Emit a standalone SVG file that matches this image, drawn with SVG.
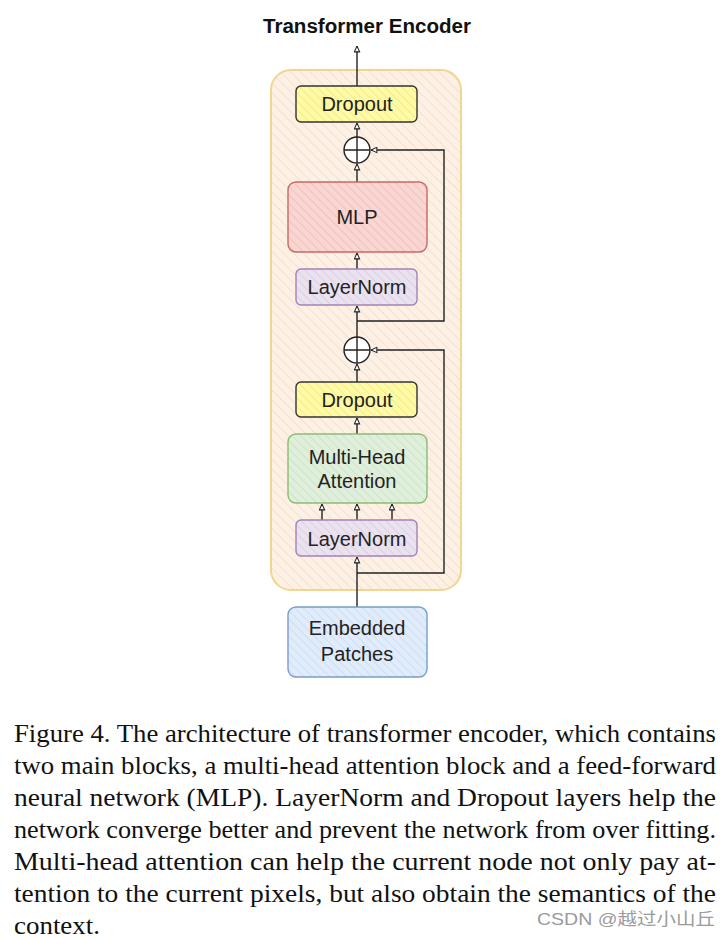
<svg xmlns="http://www.w3.org/2000/svg" width="725" height="940" viewBox="0 0 725 940">
<defs>
<style>
.lbl{font-family:"Liberation Sans",Arial,sans-serif;font-size:20px;fill:#222;text-anchor:middle}
.cap{font-family:"Liberation Serif","Times New Roman",serif;font-size:26px;fill:#111}
.ln{fill:none;stroke:#222;stroke-width:1.4}
</style>
<pattern id="hC" patternUnits="userSpaceOnUse" width="7" height="7" patternTransform="rotate(-45)"><rect width="7" height="7" fill="#fdf1e6"/><line x1="0" y1="0" x2="0" y2="7" stroke="#f6e0cc" stroke-width="2"/></pattern>
<pattern id="hY" patternUnits="userSpaceOnUse" width="6" height="6" patternTransform="rotate(-45)"><rect width="6" height="6" fill="#fffaa8"/><line x1="0" y1="0" x2="0" y2="6" stroke="#f2ea6e" stroke-width="1.6"/></pattern>
<pattern id="hR" patternUnits="userSpaceOnUse" width="6" height="6" patternTransform="rotate(-45)"><rect width="6" height="6" fill="#f9d6d2"/><line x1="0" y1="0" x2="0" y2="6" stroke="#f0bcb8" stroke-width="1.6"/></pattern>
<pattern id="hP" patternUnits="userSpaceOnUse" width="6" height="6" patternTransform="rotate(-45)"><rect width="6" height="6" fill="#ebe2f0"/><line x1="0" y1="0" x2="0" y2="6" stroke="#d8cce2" stroke-width="1.6"/></pattern>
<pattern id="hG" patternUnits="userSpaceOnUse" width="6" height="6" patternTransform="rotate(-45)"><rect width="6" height="6" fill="#e0efdc"/><line x1="0" y1="0" x2="0" y2="6" stroke="#c9e2c2" stroke-width="1.6"/></pattern>
<pattern id="hB" patternUnits="userSpaceOnUse" width="6" height="6" patternTransform="rotate(-45)"><rect width="6" height="6" fill="#e1ecfb"/><line x1="0" y1="0" x2="0" y2="6" stroke="#c9daf3" stroke-width="1.6"/></pattern>
<marker id="ar" viewBox="0 0 8 8" refX="7.5" refY="4" markerWidth="7" markerHeight="7" markerUnits="userSpaceOnUse" orient="auto"><path d="M0.8,1 L7.5,4 L0.8,7 Z" fill="#fff" stroke="#222" stroke-width="1.2"/></marker>
</defs>
<rect width="725" height="940" fill="#fff"/>

<text x="263" y="33" font-family="Liberation Sans,Arial,sans-serif" font-size="19.5" font-weight="bold" fill="#111" textLength="208" lengthAdjust="spacingAndGlyphs">Transformer Encoder</text>

<g id="encoder">
<rect x="271" y="70" width="190" height="520" rx="20" fill="url(#hC)" stroke="#f2d690" stroke-width="2"/>
</g>

<g id="connectors">
<path class="ln" d="M357,86 L357,46" marker-end="url(#ar)"/>
<path class="ln" d="M357,137 L357,123" marker-end="url(#ar)"/>
<path class="ln" d="M357,182 L357,164" marker-end="url(#ar)"/>
<path class="ln" d="M357,269 L357,253" marker-end="url(#ar)"/>
<path class="ln" d="M357,337 L357,306" marker-end="url(#ar)"/>
<path class="ln" d="M357,321 L444,321 L444,150 L371,150" marker-end="url(#ar)"/>
<path class="ln" d="M357,382 L357,364" marker-end="url(#ar)"/>
<path class="ln" d="M357,434 L357,418" marker-end="url(#ar)"/>
<path class="ln" d="M322,520 L322,504" marker-end="url(#ar)"/>
<path class="ln" d="M357,520 L357,504" marker-end="url(#ar)"/>
<path class="ln" d="M392,520 L392,504" marker-end="url(#ar)"/>
<path class="ln" d="M357,607 L357,557" marker-end="url(#ar)"/>
<path class="ln" d="M357,573 L444,573 L444,350 L371,350" marker-end="url(#ar)"/>
</g>

<g id="dropout-top">
<rect x="296" y="86" width="121" height="36" rx="5" fill="url(#hY)" stroke="#333" stroke-width="1.4"/>
<text class="lbl" x="357" y="111">Dropout</text>
</g>
<g id="add-top">
<circle cx="357" cy="150" r="13" fill="#fff" stroke="#222" stroke-width="1.4"/>
<path class="ln" d="M344,150 L370,150 M357,137 L357,163"/>
</g>
<g id="mlp">
<rect x="288" y="182" width="139" height="70" rx="8" fill="url(#hR)" stroke="#c66a66" stroke-width="1.4"/>
<text class="lbl" x="357" y="224">MLP</text>
</g>
<g id="layernorm-top">
<rect x="296" y="269" width="121" height="36" rx="5" fill="url(#hP)" stroke="#a282b8" stroke-width="1.4"/>
<text class="lbl" x="357" y="294">LayerNorm</text>
</g>
<g id="add-bottom">
<circle cx="357" cy="350" r="13" fill="#fff" stroke="#222" stroke-width="1.4"/>
<path class="ln" d="M344,350 L370,350 M357,337 L357,363"/>
</g>
<g id="dropout-bottom">
<rect x="296" y="382" width="121" height="35" rx="5" fill="url(#hY)" stroke="#333" stroke-width="1.4"/>
<text class="lbl" x="357" y="407">Dropout</text>
</g>
<g id="mha">
<rect x="288" y="434" width="139" height="69" rx="8" fill="url(#hG)" stroke="#8cbc74" stroke-width="1.4"/>
<text class="lbl" x="357" y="464">Multi-Head</text>
<text class="lbl" x="357" y="488">Attention</text>
</g>
<g id="layernorm-bottom">
<rect x="296" y="520" width="121" height="36" rx="5" fill="url(#hP)" stroke="#a282b8" stroke-width="1.4"/>
<text class="lbl" x="357" y="546">LayerNorm</text>
</g>
<g id="embedded">
<rect x="288" y="607" width="139" height="70" rx="8" fill="url(#hB)" stroke="#7c9ccc" stroke-width="1.4"/>
<text class="lbl" x="357" y="635">Embedded</text>
<text class="lbl" x="357" y="661">Patches</text>
</g>

<g id="caption">
<text class="cap" x="14" y="742" textLength="702" lengthAdjust="spacingAndGlyphs">Figure 4. The architecture of transformer encoder, which contains</text>
<text class="cap" x="14" y="774" textLength="702" lengthAdjust="spacingAndGlyphs">two main blocks, a multi-head attention block and a feed-forward</text>
<text class="cap" x="14" y="806" textLength="702" lengthAdjust="spacingAndGlyphs">neural network (MLP). LayerNorm and Dropout layers help the</text>
<text class="cap" x="14" y="838" textLength="702" lengthAdjust="spacingAndGlyphs">network converge better and prevent the network from over fitting.</text>
<text class="cap" x="14" y="870" textLength="702" lengthAdjust="spacingAndGlyphs">Multi-head attention can help the current node not only pay at-</text>
<text class="cap" x="14" y="902" textLength="702" lengthAdjust="spacingAndGlyphs">tention to the current pixels, but also obtain the semantics of the</text>
<text class="cap" x="14" y="934" textLength="86" lengthAdjust="spacingAndGlyphs">context.</text>
<text x="537" y="925" font-family="Liberation Sans,'Noto Sans CJK SC',sans-serif" font-size="17" fill="#9a9a9a" textLength="178" lengthAdjust="spacingAndGlyphs">CSDN @越过小山丘</text>
</g>
</svg>
